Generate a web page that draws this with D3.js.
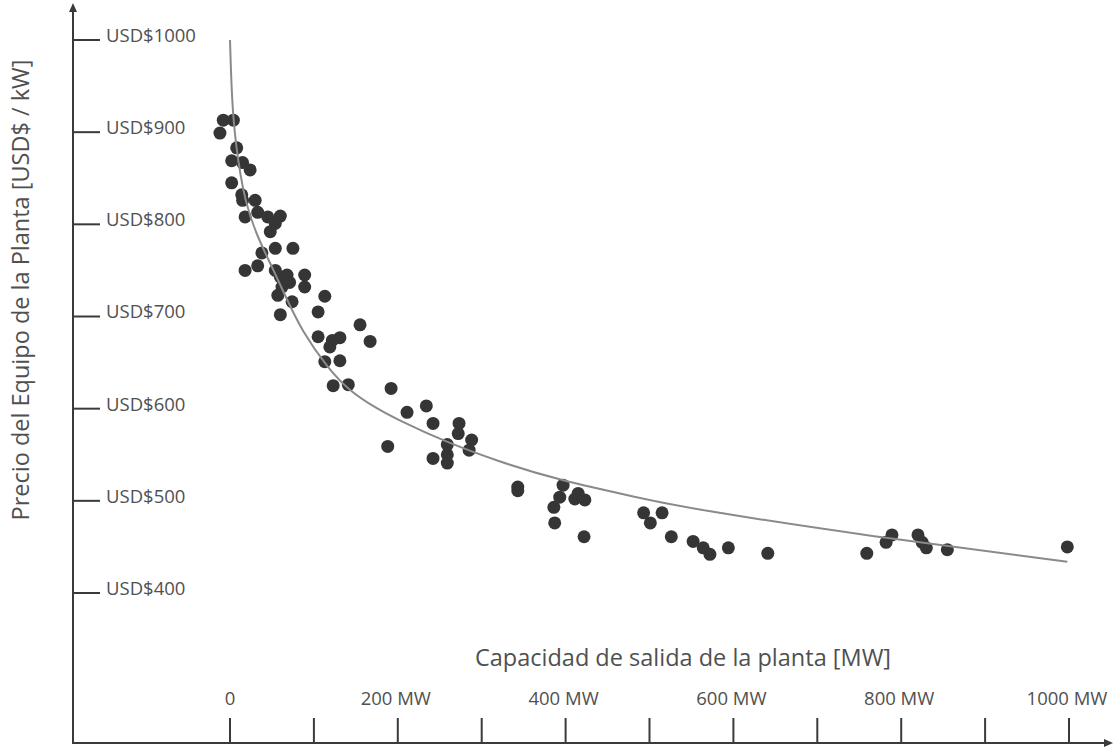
<!DOCTYPE html>
<html>
<head>
<meta charset="utf-8">
<script src="https://cdn.jsdelivr.net/npm/d3@7"></script>
<style>
  html, body { margin: 0; padding: 0; background: #fff; }
  svg { display: block; font-family: "Open Sans", "Noto Sans", sans-serif; }
</style>
</head>
<body>
<svg id="chart" width="1115" height="752"></svg>
<script>
// Scatter points: plant capacity [MW] and equipment price [USD$/kW]
const capacity = [-8, 4, -12, 8, 2, 15, 24, 2, 14, 15, 30, 18, 33, 45, 60, 54, 48, 38, 54, 75,
  18, 33, 54, 68, 62, 71, 57, 74, 89, 89, 113, 60, 105, 60, 155, 105, 122, 131, 119, 167,
  113, 131, 123, 141, 192, 211, 234, 242, 273, 272, 288, 188, 259, 259, 259, 242, 285,
  343, 343, 397, 393, 386, 387, 415, 411, 423, 422,
  493, 515, 501, 526, 552, 564, 572, 594, 641, 759, 782, 789, 820, 825, 830, 855, 998];
const price = [913, 913, 899, 883, 869, 867, 859, 845, 832, 826, 826, 808, 813, 808, 809, 801, 792, 769, 774, 774,
  750, 755, 750, 745, 732, 737, 723, 716, 745, 732, 722, 702, 705, 743, 691, 678, 674, 677, 667, 673,
  651, 652, 625, 626, 622, 596, 603, 584, 584, 573, 566, 559, 561, 550, 541, 546, 555,
  515, 511, 517, 504, 493, 476, 508, 502, 501, 461,
  487, 487, 476, 461, 456, 449, 442, 449, 443, 443, 455, 463, 463, 455, 449, 447, 450];

// Trend curve
const trendX = [0, 2, 6, 18, 35, 50, 65, 87, 116, 141, 175, 200, 254, 322, 390, 489, 545, 766, 998];
const trendY = [1000, 940, 890, 821, 782, 754, 724, 682, 645, 620, 600, 588, 565, 542, 523, 503, 492, 461, 434];

// Ticks
const yTicks = [400, 500, 600, 700, 800, 900, 1000];
const yTickLabels = ["USD$400", "USD$500", "USD$600", "USD$700", "USD$800", "USD$900", "USD$1000"];
const xTicks = [0, 100, 200, 300, 400, 500, 600, 700, 800, 900, 1000];
const xTickLabels = ["0", "", "200 MW", "", "400 MW", "", "600 MW", "", "800 MW", "", "1000 MW"];

const xTitle = "Capacidad de salida de la planta [MW]";
const yTitle = "Precio del Equipo de la Planta [USD$ / kW]";

const svg = d3.select("#chart");
const x = d3.scaleLinear().domain([0, 1000]).range([230, 1069]);
const y = d3.scaleLinear().domain([400, 1000]).range([593, 40]);

const axisX0 = 73, axisY0 = 743;
const axisColor = "#3a3a3a";
const textColor = "#505050";

// blur filter for soft dots
const defs = svg.append("defs");
defs.append("filter").attr("id", "soft")
  .append("feGaussianBlur").attr("stdDeviation", 0.6);

// Y axis line with arrow
svg.append("line").attr("x1", axisX0).attr("x2", axisX0).attr("y1", axisY0 + 1).attr("y2", 8)
  .attr("stroke", axisColor).attr("stroke-width", 2);
svg.append("path").attr("d", `M${axisX0 - 4},12 L${axisX0},3 L${axisX0 + 4},12 Z`).attr("fill", axisColor);

// X axis line with arrow
svg.append("line").attr("x1", axisX0 - 1).attr("x2", 1108).attr("y1", axisY0).attr("y2", axisY0)
  .attr("stroke", axisColor).attr("stroke-width", 2);
svg.append("path").attr("d", `M1104,${axisY0 - 4} L1113,${axisY0} L1104,${axisY0 + 4} Z`).attr("fill", axisColor);

// Y ticks
const yt = svg.append("g").selectAll("g").data(yTicks).join("g");
yt.append("line").attr("x1", axisX0).attr("x2", 100)
  .attr("y1", d => y(d)).attr("y2", d => y(d))
  .attr("stroke", axisColor).attr("stroke-width", 2);
yt.append("text").attr("x", 106).attr("y", d => y(d) - 3)
  .attr("dominant-baseline", "middle")
  .attr("font-size", 18.5).attr("fill", textColor)
  .text((d, i) => yTickLabels[i]);

// X ticks
const xt = svg.append("g").selectAll("g").data(xTicks).join("g");
xt.append("line").attr("x1", d => x(d)).attr("x2", d => x(d))
  .attr("y1", 718).attr("y2", axisY0)
  .attr("stroke", axisColor).attr("stroke-width", 2);
xt.append("text").attr("x", d => x(d) - (d === 0 ? 0 : 2)).attr("y", 700)
  .attr("text-anchor", "middle").attr("dominant-baseline", "middle")
  .attr("font-size", 18.5).attr("fill", textColor)
  .text((d, i) => xTickLabels[i]);

// Titles
svg.append("text").attr("x", 683).attr("y", 660)
  .attr("text-anchor", "middle").attr("dominant-baseline", "middle")
  .attr("font-size", 23.5).attr("fill", textColor).text(xTitle);
svg.append("text").attr("transform", "translate(23,290) rotate(-90)")
  .attr("text-anchor", "middle").attr("dominant-baseline", "middle")
  .attr("font-size", 23.5).attr("fill", textColor).text(yTitle);

// Dots
const pts = capacity.map((c, i) => ({ c, p: price[i] }));
svg.append("g").attr("filter", "url(#soft)").selectAll("circle").data(pts).join("circle")
  .attr("cx", d => x(d.c)).attr("cy", d => y(d.p)).attr("r", 6.5)
  .attr("fill", "#363636");

// Trend curve
const trend = trendX.map((v, i) => [v, trendY[i]]);
svg.append("path").datum(trend)
  .attr("d", d3.line().x(d => x(d[0])).y(d => y(d[1])).curve(d3.curveBasis))
  .attr("fill", "none").attr("stroke", "#8a8a8a").attr("stroke-width", 2);
</script>
</body>
</html>
